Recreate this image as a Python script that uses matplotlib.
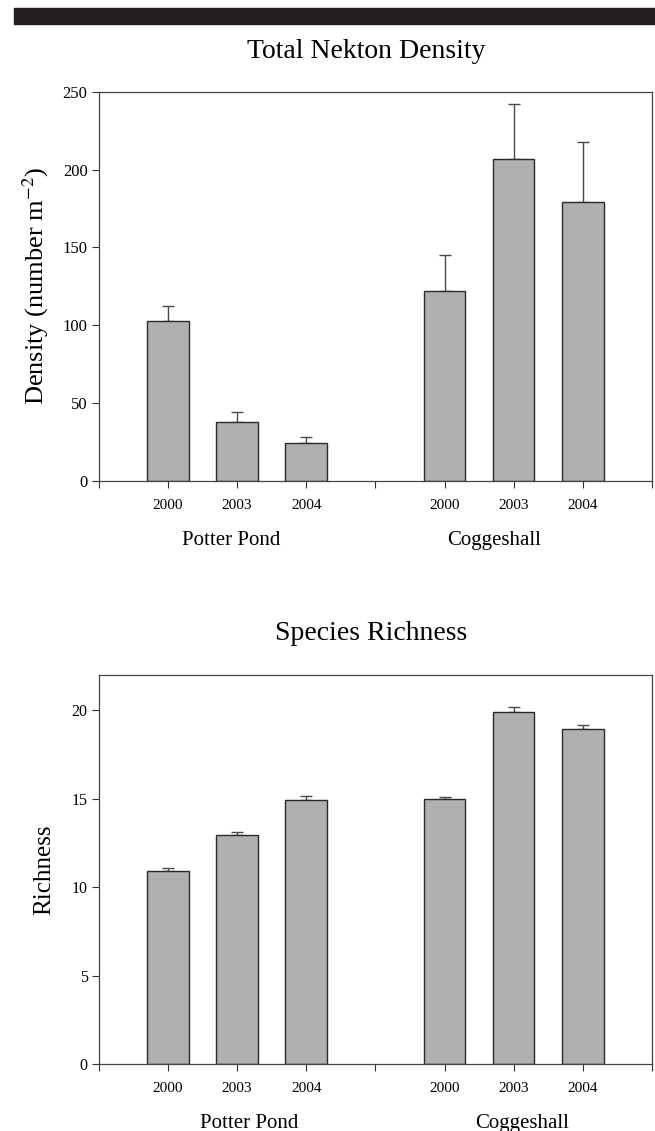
import matplotlib
matplotlib.use("Agg")
import matplotlib.pyplot as plt
from matplotlib.patches import Rectangle
import numpy as np

plt.rcParams["font.family"] = ["Liberation Serif", "DejaVu Serif"]
plt.rcParams["mathtext.fontset"] = "stix"

years = ["2000", "2003", "2004"]
sites = ["Potter Pond", "Coggeshall"]

# mean and upper error (SE)
density_pp = [103, 38, 24.5]
density_pp_err = [9.5, 6.5, 3.6]
density_cg = [122, 207, 179]
density_cg_err = [23, 35, 39]

richness_pp = [10.95, 12.93, 14.93]
richness_pp_err = [0.17, 0.22, 0.24]
richness_cg = [14.97, 19.9, 18.93]
richness_cg_err = [0.14, 0.28, 0.25]

W, H = 655, 1131
fig = plt.figure(figsize=(W / 100, H / 100), dpi=100)


def fx(px):
    return px / W


def fy(py):
    return 1 - py / H


# dark header band
fig.patches.append(Rectangle((fx(14), fy(24)), fx(655) - fx(14), fy(8) - fy(24),
                             transform=fig.transFigure, color="#231f20", zorder=0))

bar_color = "#b0b0b0"
edge = "#2a2a2a"
err_color = "#4a4a4a"


def panel(top_px, pp, pp_err, cg, cg_err, ymax, yticks, ylabel, label_x_px,
          title, title_x_px, title_base_px, group_x, ylabel_size, ytick_size):
    ax = fig.add_axes([fx(98.7), fy(top_px + 389.3), fx(553.3), 389.3 / H])
    pos_pp = np.array([1, 2, 3])
    pos_cg = np.array([5, 6, 7])
    for pos, vals, err in [(pos_pp, pp, pp_err), (pos_cg, cg, cg_err)]:
        ax.bar(pos, vals, width=0.6, color=bar_color, edgecolor=edge,
               linewidth=1.0, zorder=2)
        ax.errorbar(pos, vals, yerr=[np.zeros(len(vals)), err], fmt="none",
                    ecolor=err_color, elinewidth=1.0, capsize=4.5,
                    capthick=1.0, zorder=1)
    ax.set_xlim(0, 8)
    ax.set_ylim(0, ymax)
    ax.set_xticks(np.arange(0, 9))
    ax.set_xticklabels(["", *years, "", *years, ""])
    ax.set_yticks(yticks)
    ax.tick_params(axis="x", direction="out", length=5, width=0.8,
                   pad=8, labelsize=11, colors="#333333")
    ax.tick_params(axis="y", direction="out", length=5, width=0.8,
                   pad=3, labelsize=ytick_size, colors="#333333")
    for tl in ax.get_xticklabels() + ax.get_yticklabels():
        tl.set_color("black")
    for s in ax.spines.values():
        s.set_color("#444444")
        s.set_linewidth(0.9)
    ax.set_ylabel(ylabel, fontsize=ylabel_size)
    ax.yaxis.set_label_coords((label_x_px - 98.7) / 553.3, 0.5)
    fig.text(fx(title_x_px), fy(title_base_px), title, ha="center",
             va="baseline", fontsize=20)
    for name, gx, gy in group_x:
        fig.text(fx(98.7 + gx * 553.3 / 8), fy(gy), name, ha="center",
                 va="baseline", fontsize=15)
    return ax


panel(91.7, density_pp, density_pp_err, density_cg, density_cg_err,
      250, [0, 50, 100, 150, 200, 250], r"Density (number m$^{-2}$)", 51,
      "Total Nekton Density", 366, 58,
      [(sites[0], 1.91, 545), (sites[1], 5.71, 545)], 19, 12)

panel(675, richness_pp, richness_pp_err, richness_cg, richness_cg_err,
      22, [0, 5, 10, 15, 20], "Richness", 55,
      "Species Richness", 371, 640,
      [(sites[0], 2.17, 1128), (sites[1], 6.12, 1128)], 18, 11.5)

fig.savefig("out.png", dpi=100, facecolor="white")
